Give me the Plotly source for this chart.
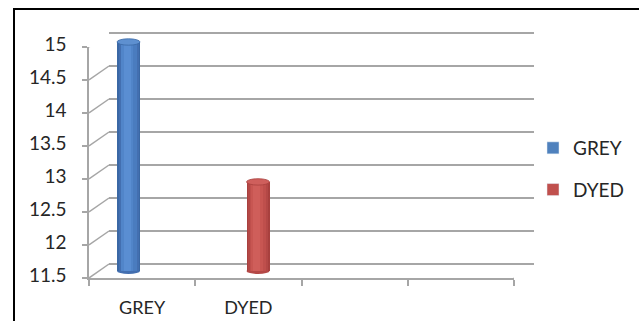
import plotly.graph_objects as go

# ---------------- data ----------------
categories = ["GREY", "DYED"]
values = [14.97, 12.85]
series_colors = ["#4F81BD", "#C0504D"]
y_ticks = [11.5, 12, 12.5, 13, 13.5, 14, 14.5, 15]
y_tick_text = ["11.5", "12", "12.5", "13", "13.5", "14", "14.5", "15"]
n_slots = 4          # category slots drawn on the floor
Y_MIN, Y_MAX = 11.5, 15

# shading layers for the cylinders (width fraction, colour) per series
shades = {
    "GREY": [(1.00, "#3A68A5"), (0.86, "#436FB0"), (0.70, "#4A7CBF"),
             (0.52, "#5185C9"), (0.30, "#5A8ED2")],
    "DYED": [(1.00, "#A8403E"), (0.86, "#B44846"), (0.70, "#BF4F4C"),
             (0.52, "#C85652"), (0.30, "#CF5E5A")],
}
top_colors = {"GREY": "#5E90D0", "DYED": "#CF5F5C"}

W, H = 639, 321
def fx(x):
    return x / W
def fy(y):
    return 1 - y / H

FONT = "Lato"
TXT = "#262626"
AX = "#A6A6A6"
DX, DY = 20, 14      # depth offset of the back wall in pixels

FRONT_TOP, FRONT_BOT = 47, 278
ppu = (FRONT_BOT - FRONT_TOP) / (Y_MAX - Y_MIN)

fig = go.Figure()

# ---- cylinders (axis set 3, mid depth) ----
bar_w = 0.178
for ci, (cat, val) in enumerate(zip(categories, values)):
    for li, (frac, col) in enumerate(shades[cat]):
        fig.add_trace(go.Bar(
            x=[ci + 0.5], y=[val - Y_MIN], base=[Y_MIN],
            width=[bar_w * frac], offset=[-bar_w * frac / 2 - (0.012 if li >= 3 else 0)],
            marker=dict(color=col, line=dict(width=0)),
            xaxis="x3", yaxis="y3", showlegend=False, hoverinfo="skip",
        ))

# legend-only traces
for cat, col in zip(categories, series_colors):
    fig.add_trace(go.Bar(
        x=[None], y=[None], name=cat, marker=dict(color=col),
        xaxis="x", yaxis="y", legendgroup=cat, showlegend=True,
    ))

# an invisible trace so the back-wall axes are drawn
fig.add_trace(go.Scatter(x=[None], y=[None], xaxis="x2", yaxis="y2",
                         showlegend=False, hoverinfo="skip"))

shapes = []
# cylinder top / bottom ellipses
for ci, (cat, val) in enumerate(zip(categories, values)):
    shapes.append(dict(type="circle", xref="x3", yref="y3",
                       xsizemode="pixel", ysizemode="pixel",
                       xanchor=ci + 0.5, yanchor=Y_MIN,
                       x0=-11.5, x1=11.5, y0=-3, y1=3,
                       fillcolor=shades[cat][1][1], line=dict(width=0),
                       layer="between"))
    shapes.append(dict(type="circle", xref="x3", yref="y3",
                       xsizemode="pixel", ysizemode="pixel",
                       xanchor=ci + 0.5, yanchor=val,
                       x0=-11.5, x1=11.5, y0=-3.2, y1=3.2,
                       fillcolor=top_colors[cat],
                       line=dict(width=0.8, color=shades[cat][0][1]),
                       layer="above"))

# left-wall diagonals from each front tick to the back wall
for t in y_ticks:
    shapes.append(dict(type="line", xref="x", yref="y",
                       xsizemode="pixel", ysizemode="pixel",
                       xanchor=0, yanchor=t, x0=0, x1=DX, y0=0, y1=DY,
                       line=dict(color=AX, width=1.5), layer="below"))
# right floor diagonal
shapes.append(dict(type="line", xref="x", yref="y",
                   xsizemode="pixel", ysizemode="pixel",
                   xanchor=n_slots, yanchor=Y_MIN, x0=0, x1=DX, y0=0, y1=DY,
                   line=dict(color=AX, width=1.5), layer="below"))
# frame border
shapes.append(dict(type="rect", xref="paper", yref="paper",
                   x0=fx(14), x1=fx(645), y0=fy(330), y1=fy(9),
                   line=dict(color="black", width=2), fillcolor="rgba(0,0,0,0)"))

front_x = [fx(89), fx(514)]
front_y = [fy(FRONT_BOT), fy(FRONT_TOP)]
back_x = [fx(89 + DX), fx(514 + DX)]
# back wall with a little headroom so the edge gridlines are drawn
y2_lo, y2_hi = 11.4, 15.1
back_bot = FRONT_BOT - DY
y2_dom = [fy(back_bot + (Y_MIN - y2_lo) * ppu), fy(back_bot - (y2_hi - Y_MIN) * ppu)]

y3_lo, y3_hi = 11.3, 15.3
mid_bottom = FRONT_BOT - DY / 2
y3_dom = [fy(mid_bottom + (Y_MIN - y3_lo) * ppu), fy(mid_bottom - (y3_hi - Y_MIN) * ppu)]

fig.update_layout(
    width=W, height=H,
    margin=dict(l=0, r=0, t=0, b=0, autoexpand=False),
    paper_bgcolor="white", plot_bgcolor="rgba(0,0,0,0)",
    barmode="overlay", bargap=0,
    font=dict(family=FONT, size=18, color=TXT),
    showlegend=True,
    legend=dict(x=fx(533), y=fy(129), xanchor="left", yanchor="top",
                bgcolor="rgba(0,0,0,0)", font=dict(size=19, color=TXT),
                tracegroupgap=14, itemclick=False),
    # front axes: labels, front edge
    xaxis=dict(domain=front_x, range=[0, n_slots], showgrid=False, zeroline=False,
               automargin=False,
               showline=True, linecolor=AX, linewidth=1.5,
               tickmode="array", tickvals=[i + 0.5 for i in range(len(categories))],
               ticktext=categories, ticks="", ticklabelstandoff=13,
               minor=dict(tickmode="array", tickvals=list(range(n_slots + 1)),
                          ticks="outside", ticklen=6, tickcolor=AX, tickwidth=1.5,
                          showgrid=False),
               fixedrange=True),
    yaxis=dict(domain=front_y, range=[Y_MIN, Y_MAX], showgrid=False, zeroline=False,
               automargin=False,
               showline=True, linecolor=AX, linewidth=1.5,
               tickmode="array", tickvals=y_ticks, ticktext=y_tick_text,
               ticks="outside", ticklen=5, tickcolor=AX, tickwidth=1.5,
               ticklabelstandoff=12, ticklabelshift=-3, tickfont=dict(size=19),
               fixedrange=True),
    # back wall gridlines
    xaxis2=dict(domain=back_x, range=[0, n_slots], visible=False, anchor="y2",
                automargin=False, fixedrange=True),
    yaxis2=dict(domain=y2_dom, range=[y2_lo, y2_hi], anchor="x2",
                automargin=False,
                showgrid=True, gridcolor=AX, gridwidth=1.5, zeroline=False,
                showline=False, tickmode="array", tickvals=y_ticks,
                showticklabels=False, ticks="", fixedrange=True),
    # cylinder axes (mid depth, perspective placement)
    xaxis3=dict(domain=[fx(63.75), fx(581.75)], range=[0, n_slots], visible=False,
                anchor="y3", automargin=False, fixedrange=True),
    yaxis3=dict(domain=y3_dom, range=[y3_lo, y3_hi], visible=False, anchor="x3",
                automargin=False, fixedrange=True),
    shapes=shapes,
)

fig.write_html("out.html")
